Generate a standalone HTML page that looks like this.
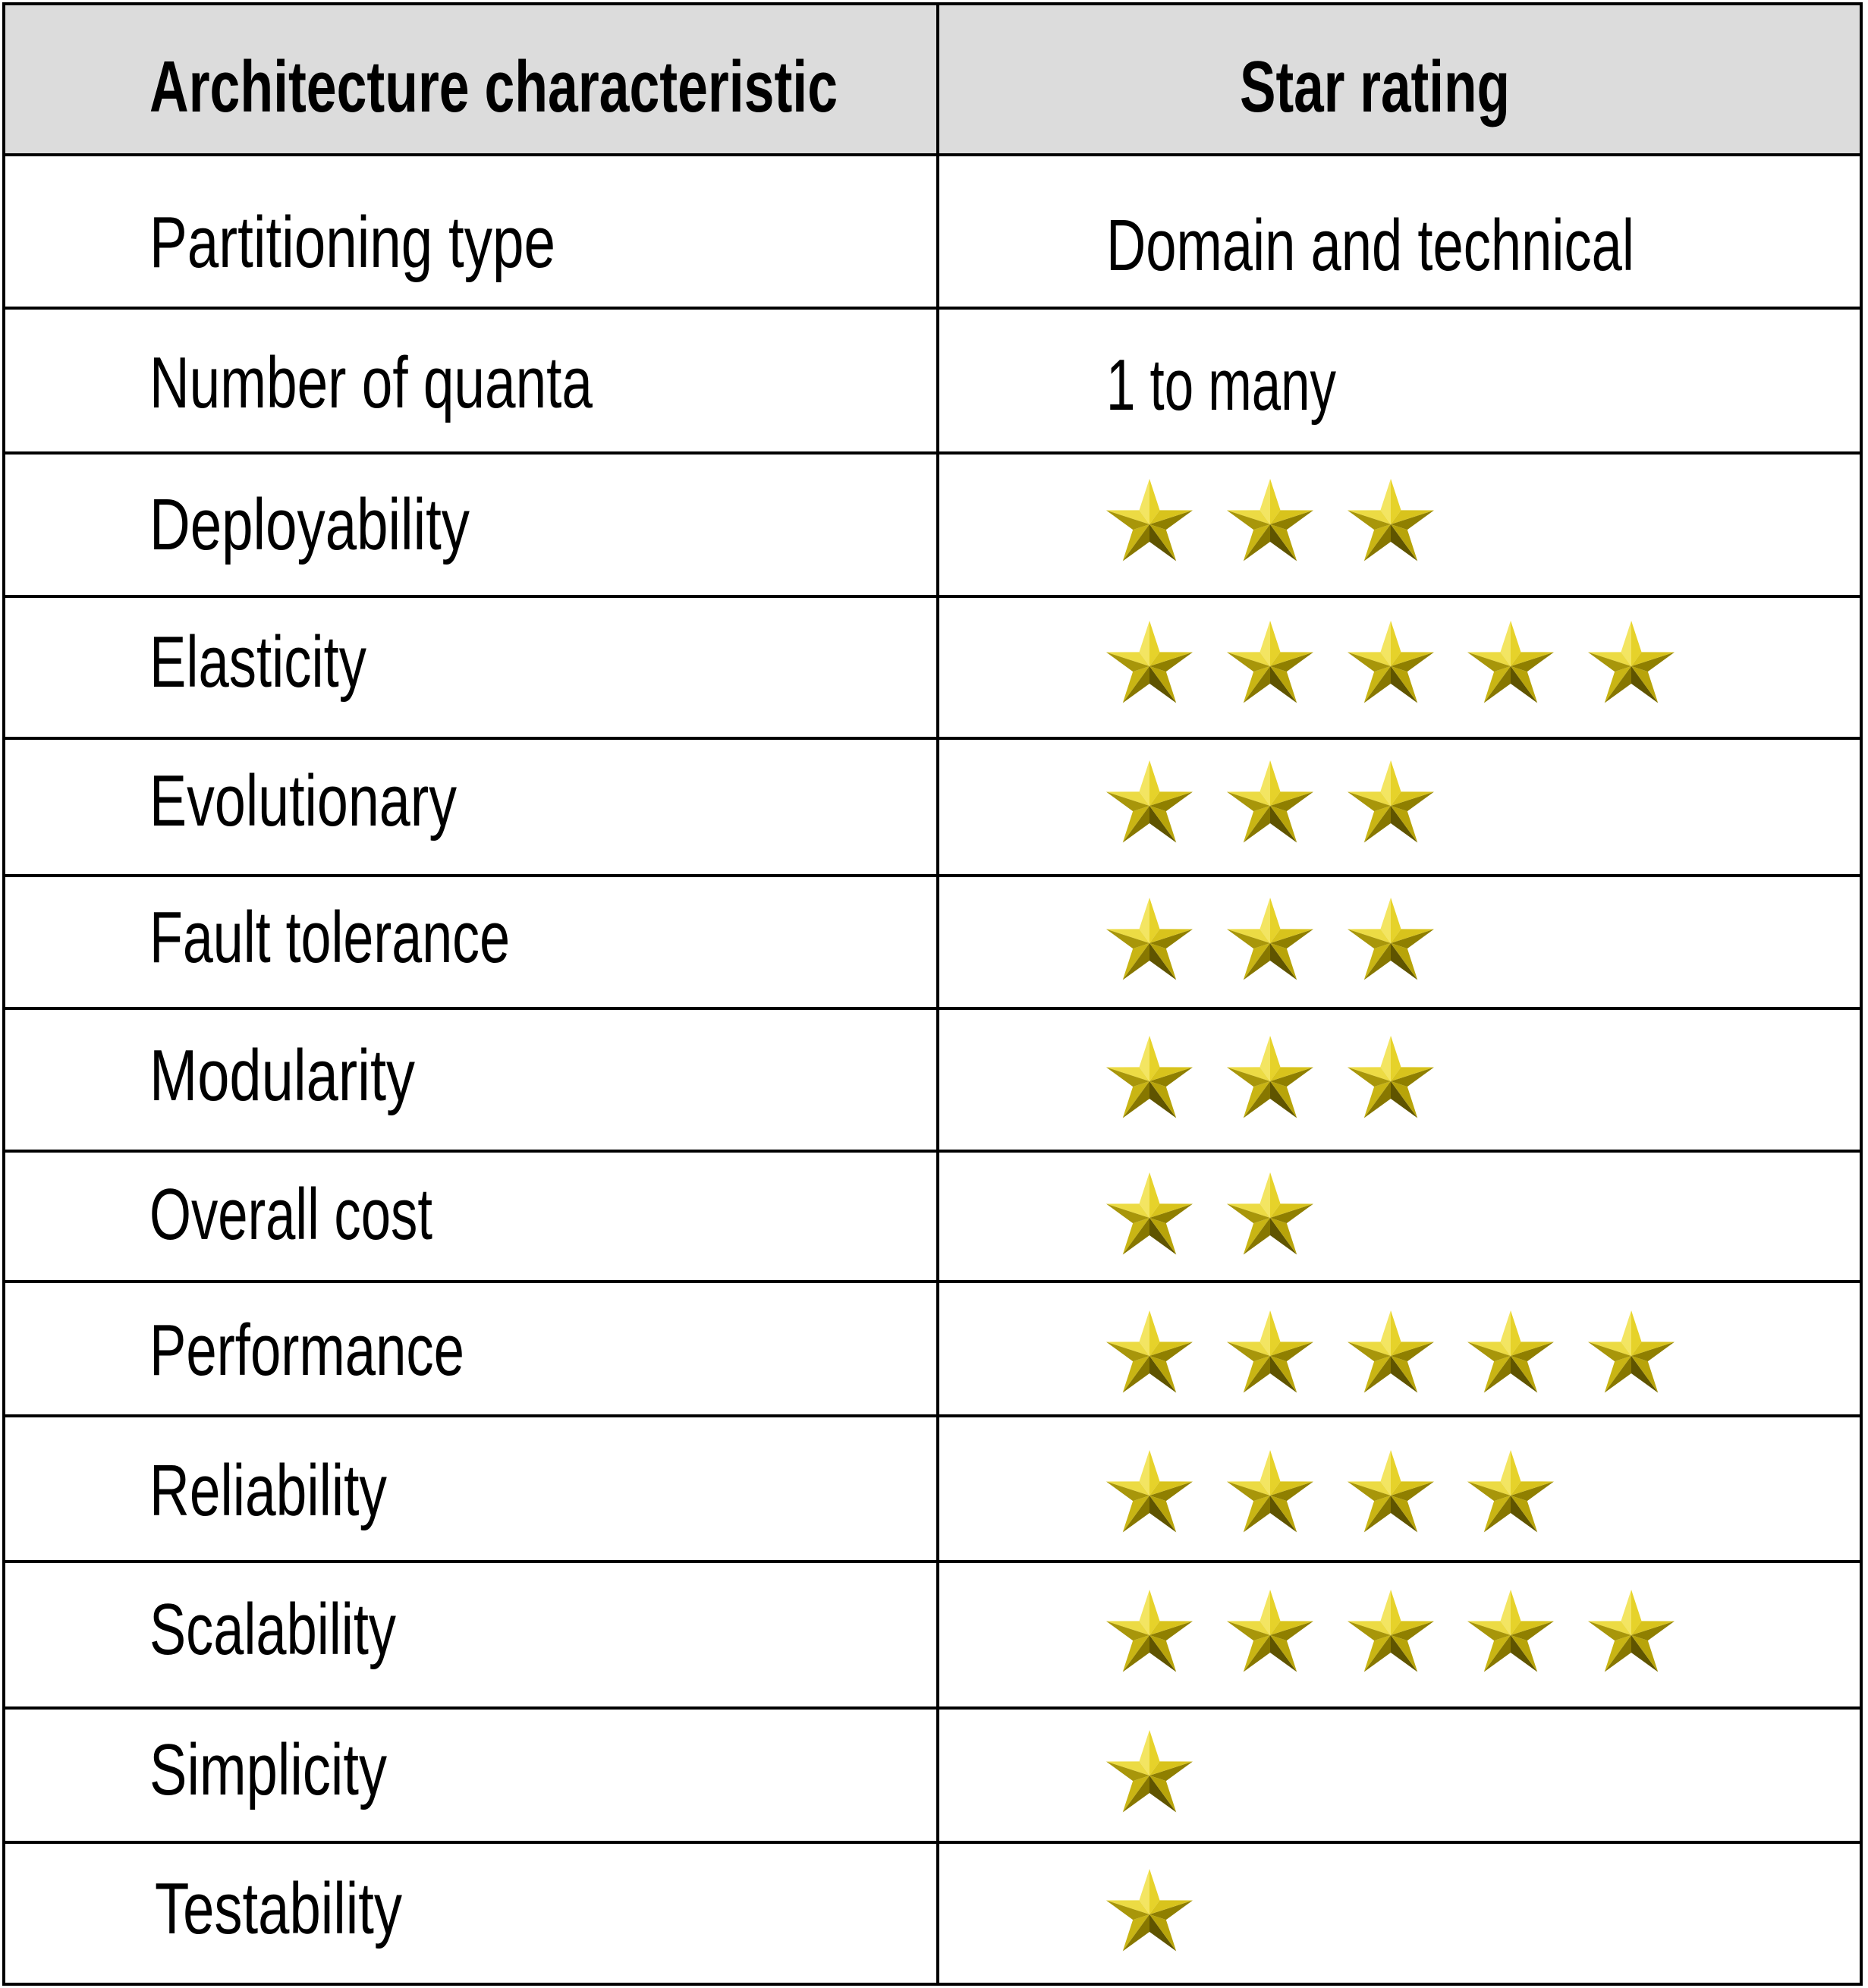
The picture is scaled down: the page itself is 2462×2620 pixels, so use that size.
<!DOCTYPE html>
<html><head><meta charset="utf-8"><style>
html,body{margin:0;padding:0;background:#fff}
svg{display:block}
text{font-family:"Liberation Sans",sans-serif;fill:#000}
</style></head><body>
<svg width="2462" height="2620" viewBox="0 0 2462 2620" xmlns="http://www.w3.org/2000/svg">
<defs>
<g id="st">
<polygon points="0,0 0,-60 13.52,-18.61" fill="#e6d22a"/>
<polygon points="0,0 -13.52,-18.61 0,-60" fill="#f3e562"/>
<polygon points="0,0 57.06,-18.54 21.87,7.11" fill="#8f7f00"/>
<polygon points="0,0 13.52,-18.61 57.06,-18.54" fill="#d8c31c"/>
<polygon points="0,0 35.27,48.54 0,23" fill="#5f5400"/>
<polygon points="0,0 21.87,7.11 35.27,48.54" fill="#b8a40a"/>
<polygon points="0,0 -35.27,48.54 -21.87,7.11" fill="#c9b514"/>
<polygon points="0,0 0,23 -35.27,48.54" fill="#877700"/>
<polygon points="0,0 -57.06,-18.54 -13.52,-18.61" fill="#ecdb44"/>
<polygon points="0,0 -21.87,7.11 -57.06,-18.54" fill="#a8960a"/>
</g>
</defs>
<rect x="5" y="5" width="2448" height="199" fill="#dcdcdc"/>
<g stroke="#000" stroke-width="4" fill="none">
<rect x="5" y="5" width="2448" height="2610"/>
<line x1="1236" y1="5" x2="1236" y2="2615"/>
<line x1="5" y1="204" x2="2453" y2="204"/>
<line x1="5" y1="406" x2="2453" y2="406"/>
<line x1="5" y1="597" x2="2453" y2="597"/>
<line x1="5" y1="786" x2="2453" y2="786"/>
<line x1="5" y1="973" x2="2453" y2="973"/>
<line x1="5" y1="1154" x2="2453" y2="1154"/>
<line x1="5" y1="1329" x2="2453" y2="1329"/>
<line x1="5" y1="1517" x2="2453" y2="1517"/>
<line x1="5" y1="1689" x2="2453" y2="1689"/>
<line x1="5" y1="1866" x2="2453" y2="1866"/>
<line x1="5" y1="2058" x2="2453" y2="2058"/>
<line x1="5" y1="2251" x2="2453" y2="2251"/>
<line x1="5" y1="2428" x2="2453" y2="2428"/>
</g>
<g font-size="96" font-weight="bold">
<text x="197" y="147" textLength="907" lengthAdjust="spacingAndGlyphs">Architecture characteristic</text>
<text x="1634" y="147" textLength="356" lengthAdjust="spacingAndGlyphs">Star rating</text>
</g>
<g font-size="96">
<text x="197" y="352" textLength="535" lengthAdjust="spacingAndGlyphs">Partitioning type</text>
<text x="1458" y="356" textLength="696" lengthAdjust="spacingAndGlyphs">Domain and technical</text>
<text x="197" y="537" textLength="584" lengthAdjust="spacingAndGlyphs">Number of quanta</text>
<text x="1458" y="540" textLength="303" lengthAdjust="spacingAndGlyphs">1 to many</text>
<text x="197" y="724" textLength="422" lengthAdjust="spacingAndGlyphs">Deployability</text>
<text x="197" y="905" textLength="286" lengthAdjust="spacingAndGlyphs">Elasticity</text>
<text x="197" y="1088" textLength="405" lengthAdjust="spacingAndGlyphs">Evolutionary</text>
<text x="197" y="1268" textLength="475" lengthAdjust="spacingAndGlyphs">Fault tolerance</text>
<text x="197" y="1450" textLength="350" lengthAdjust="spacingAndGlyphs">Modularity</text>
<text x="197" y="1633" textLength="373" lengthAdjust="spacingAndGlyphs">Overall cost</text>
<text x="197" y="1812" textLength="415" lengthAdjust="spacingAndGlyphs">Performance</text>
<text x="197" y="1997" textLength="313" lengthAdjust="spacingAndGlyphs">Reliability</text>
<text x="197" y="2180" textLength="325" lengthAdjust="spacingAndGlyphs">Scalability</text>
<text x="197" y="2365" textLength="313" lengthAdjust="spacingAndGlyphs">Simplicity</text>
<text x="204" y="2548" textLength="326" lengthAdjust="spacingAndGlyphs">Testability</text>
</g>
<!-- stars -->
<use href="#st" x="1515" y="691"/><use href="#st" x="1674" y="691"/><use href="#st" x="1833" y="691"/>
<use href="#st" x="1515" y="878"/><use href="#st" x="1674" y="878"/><use href="#st" x="1833" y="878"/><use href="#st" x="1991" y="878"/><use href="#st" x="2150" y="878"/>
<use href="#st" x="1515" y="1062"/><use href="#st" x="1674" y="1062"/><use href="#st" x="1833" y="1062"/>
<use href="#st" x="1515" y="1243"/><use href="#st" x="1674" y="1243"/><use href="#st" x="1833" y="1243"/>
<use href="#st" x="1515" y="1425"/><use href="#st" x="1674" y="1425"/><use href="#st" x="1833" y="1425"/>
<use href="#st" x="1515" y="1605"/><use href="#st" x="1674" y="1605"/>
<use href="#st" x="1515" y="1787"/><use href="#st" x="1674" y="1787"/><use href="#st" x="1833" y="1787"/><use href="#st" x="1991" y="1787"/><use href="#st" x="2150" y="1787"/>
<use href="#st" x="1515" y="1971"/><use href="#st" x="1674" y="1971"/><use href="#st" x="1833" y="1971"/><use href="#st" x="1991" y="1971"/>
<use href="#st" x="1515" y="2155"/><use href="#st" x="1674" y="2155"/><use href="#st" x="1833" y="2155"/><use href="#st" x="1991" y="2155"/><use href="#st" x="2150" y="2155"/>
<use href="#st" x="1515" y="2340"/>
<use href="#st" x="1515" y="2523"/>
</svg>
</body></html>
